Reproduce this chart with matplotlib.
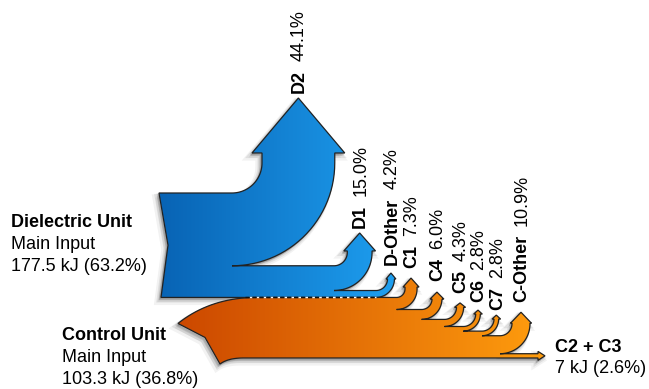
import numpy as np
import matplotlib
matplotlib.use('Agg')
import matplotlib.pyplot as plt
from matplotlib.path import Path
from matplotlib.patches import PathPatch
from matplotlib.colors import LinearSegmentedColormap
from matplotlib.transforms import Affine2D
from matplotlib import font_manager as fm

# pick a sans family that ships a real bold face
FAMILY = 'DejaVu Sans'
for fam in ['Liberation Sans', 'Arimo', 'Roboto', 'Noto Sans']:
    f = fm.findfont(fm.FontProperties(family=fam, weight='bold'), fallback_to_default=False)
    if f and 'bold' in f.lower():
        FAMILY = fam
        break
plt.rcParams['font.family'] = [FAMILY, 'DejaVu Sans']

# --- Energy balance ---
input_names = ['Dielectric Unit', 'Control Unit']
input_kj = [177.5, 103.3]
input_pct = [63.2, 36.8]

diel_names = ['D2', 'D1', 'D-Other']
diel_pct = [44.1, 15.0, 4.2]

ctrl_names = ['C1', 'C4', 'C5', 'C6', 'C7', 'C-Other']
ctrl_pct = [7.3, 6.0, 4.3, 2.8, 2.8, 10.9]

side_name = 'C2 + C3'
side_kj = 7
side_pct = 2.6

# --- Layout (pixel units) ---
px_per_pct = 1.65
band_top = 193.0

# per branch: turn x, inner radius, shaft length, head length, head overhang, label gap
diel_turn_x = [232, 334, 376]
diel_radius = [30, 13.3, 11.5]
diel_shaft = [10, 1.5, 0]
diel_head = [55, 18, 6]
diel_wing = [10, 3.5, 1.5]
diel_gap = [5, 5, 8]

ctrl_turn_x = [396.6, 421.6, 444.5, 463.3, 482, 500]
ctrl_radius = [8.4, 10.4, 12, 12.4, 12, 12]
ctrl_shaft = [2, 0, 0, 0, 0, 0.5]
ctrl_head = [9, 7, 4.5, 4, 4, 11]
ctrl_wing = [2, 2, 2, 2, 2, 1.5]
ctrl_gap = [10, 11, 10, 8, 5, 10]

blue_cols = ['#0863b4', '#1e9ff0']
orange_cols = ['#cc4800', '#ff9d0e']
edge_col = '#222222'
FS = 13


def turn_up(top, width, cx, r, shaft, head, wing):
    # branch leaving the top of a band: inner arc, arrow, outer arc
    cy = top - r
    t = np.linspace(0, np.pi / 2, 30)
    pts = list(zip(cx + r * np.sin(t), cy + r * np.cos(t)))
    xl, xr = cx + r, cx + r + width
    base = cy - shaft
    tip = ((xl + xr) / 2, base - head)
    pts += [(xl, base), (xl - wing, base), tip, (xr + wing, base), (xr, base)]
    R = r + width
    pts += list(zip(cx + R * np.sin(t[::-1]), cy + R * np.cos(t[::-1])))
    return pts, tip


def quad(p0, c, p1, n=20):
    s = np.linspace(0, 1, n)[:, None]
    p0, c, p1 = map(np.asarray, (p0, c, p1))
    return list(map(tuple, (1 - s) ** 2 * p0 + 2 * (1 - s) * s * c + s ** 2 * p1))


fig = plt.figure(figsize=(6.49, 3.89), dpi=100)
ax = fig.add_axes([0, 0, 1, 1])
ax.set_xlim(0, 649)
ax.set_ylim(389, 0)
ax.axis('off')

# dielectric band
verts = [(159, band_top)]
diel_tips = []
y = band_top
for i, p in enumerate(diel_pct):
    w = p * px_per_pct
    pts, tip = turn_up(y, w, diel_turn_x[i], diel_radius[i], diel_shaft[i],
                       diel_head[i], diel_wing[i])
    verts += pts
    diel_tips.append(tip)
    y += w
blue_bottom = y
verts += [(161, blue_bottom), (168, (band_top + blue_bottom) / 2), (159, band_top)]
blue_path = Path(verts, closed=True)

# control band
y = blue_bottom
verts = quad((178, y + 26), (210, y + 0.5), (255, y))
ctrl_tips = []
for i, p in enumerate(ctrl_pct):
    w = p * px_per_pct
    pts, tip = turn_up(y, w, ctrl_turn_x[i], ctrl_radius[i], ctrl_shaft[i],
                       ctrl_head[i], ctrl_wing[i])
    verts += pts
    ctrl_tips.append(tip)
    y += w
w = side_pct * px_per_pct
verts += [(538, y), (538, y - 2.3), (545, y + w / 2), (538, y + w + 2.3), (538, y + w)]
ctrl_bottom = y + w
verts += quad((243, ctrl_bottom), (228, ctrl_bottom), (220, ctrl_bottom + 6), 10)
verts += [(205, blue_bottom + 40), (178, blue_bottom + 26)]
orange_path = Path(verts, closed=True)

for path, cols in [(blue_path, blue_cols), (orange_path, orange_cols)]:
    # soft drop shadow
    for k, a in [(1.5, 0.12), (3.0, 0.08), (4.5, 0.05)]:
        ax.add_patch(PathPatch(path, fc='k', ec='k', lw=k, alpha=a, zorder=1,
                               transform=Affine2D().translate(-k * 0.8, k) + ax.transData))
    outline = PathPatch(path, fc='none', ec=edge_col, lw=0.9, zorder=3)
    ax.add_patch(outline)
    ext = path.get_extents()
    cmap = LinearSegmentedColormap.from_list('grad', cols)
    im = ax.imshow(np.linspace(0, 1, 256).reshape(1, -1), cmap=cmap, aspect='auto',
                   extent=[ext.x0, ext.x1, ext.y1, ext.y0], zorder=2, interpolation='bilinear')
    im.set_clip_path(outline)

ax.set_xlim(0, 649)
ax.set_ylim(389, 0)

# dashed seam between the two units
ax.plot([245, diel_turn_x[-1]], [blue_bottom, blue_bottom], color='#111111', lw=1,
        ls=(0, (3, 2)), gapcolor='#f4f4f4', zorder=4)


def flow_label(tip, gap, name, pct):
    t = ax.text(tip[0] + 1, tip[1] - gap, name, rotation=90, ha='center', va='bottom',
                fontsize=FS, fontweight='bold', zorder=5)
    ax.annotate(f'{pct:.1f}%', xy=(0.5, 1), xycoords=t, xytext=(0, 6.5),
                textcoords='offset points', rotation=90, ha='center', va='bottom',
                fontsize=FS, zorder=5)


for tip, g, n, p in zip(diel_tips, diel_gap, diel_names, diel_pct):
    flow_label(tip, g, n, p)
for tip, g, n, p in zip(ctrl_tips, ctrl_gap, ctrl_names, ctrl_pct):
    flow_label(tip, g, n, p)

# input labels
for (x, y0), n, kj, p in zip([(11, 226.7), (62, 340)], input_names, input_kj, input_pct):
    ax.text(x, y0, n, fontsize=FS, fontweight='bold', va='baseline')
    ax.text(x, y0 + 22, 'Main Input', fontsize=FS, va='baseline')
    ax.text(x, y0 + 44, f'{kj} kJ ({p}%)', fontsize=FS, va='baseline')

ax.text(555, 352, side_name, fontsize=FS, fontweight='bold', va='baseline')
ax.text(555, 373, f'{side_kj} kJ ({side_pct}%)', fontsize=FS, va='baseline')

fig.savefig('out.png', dpi=100)
